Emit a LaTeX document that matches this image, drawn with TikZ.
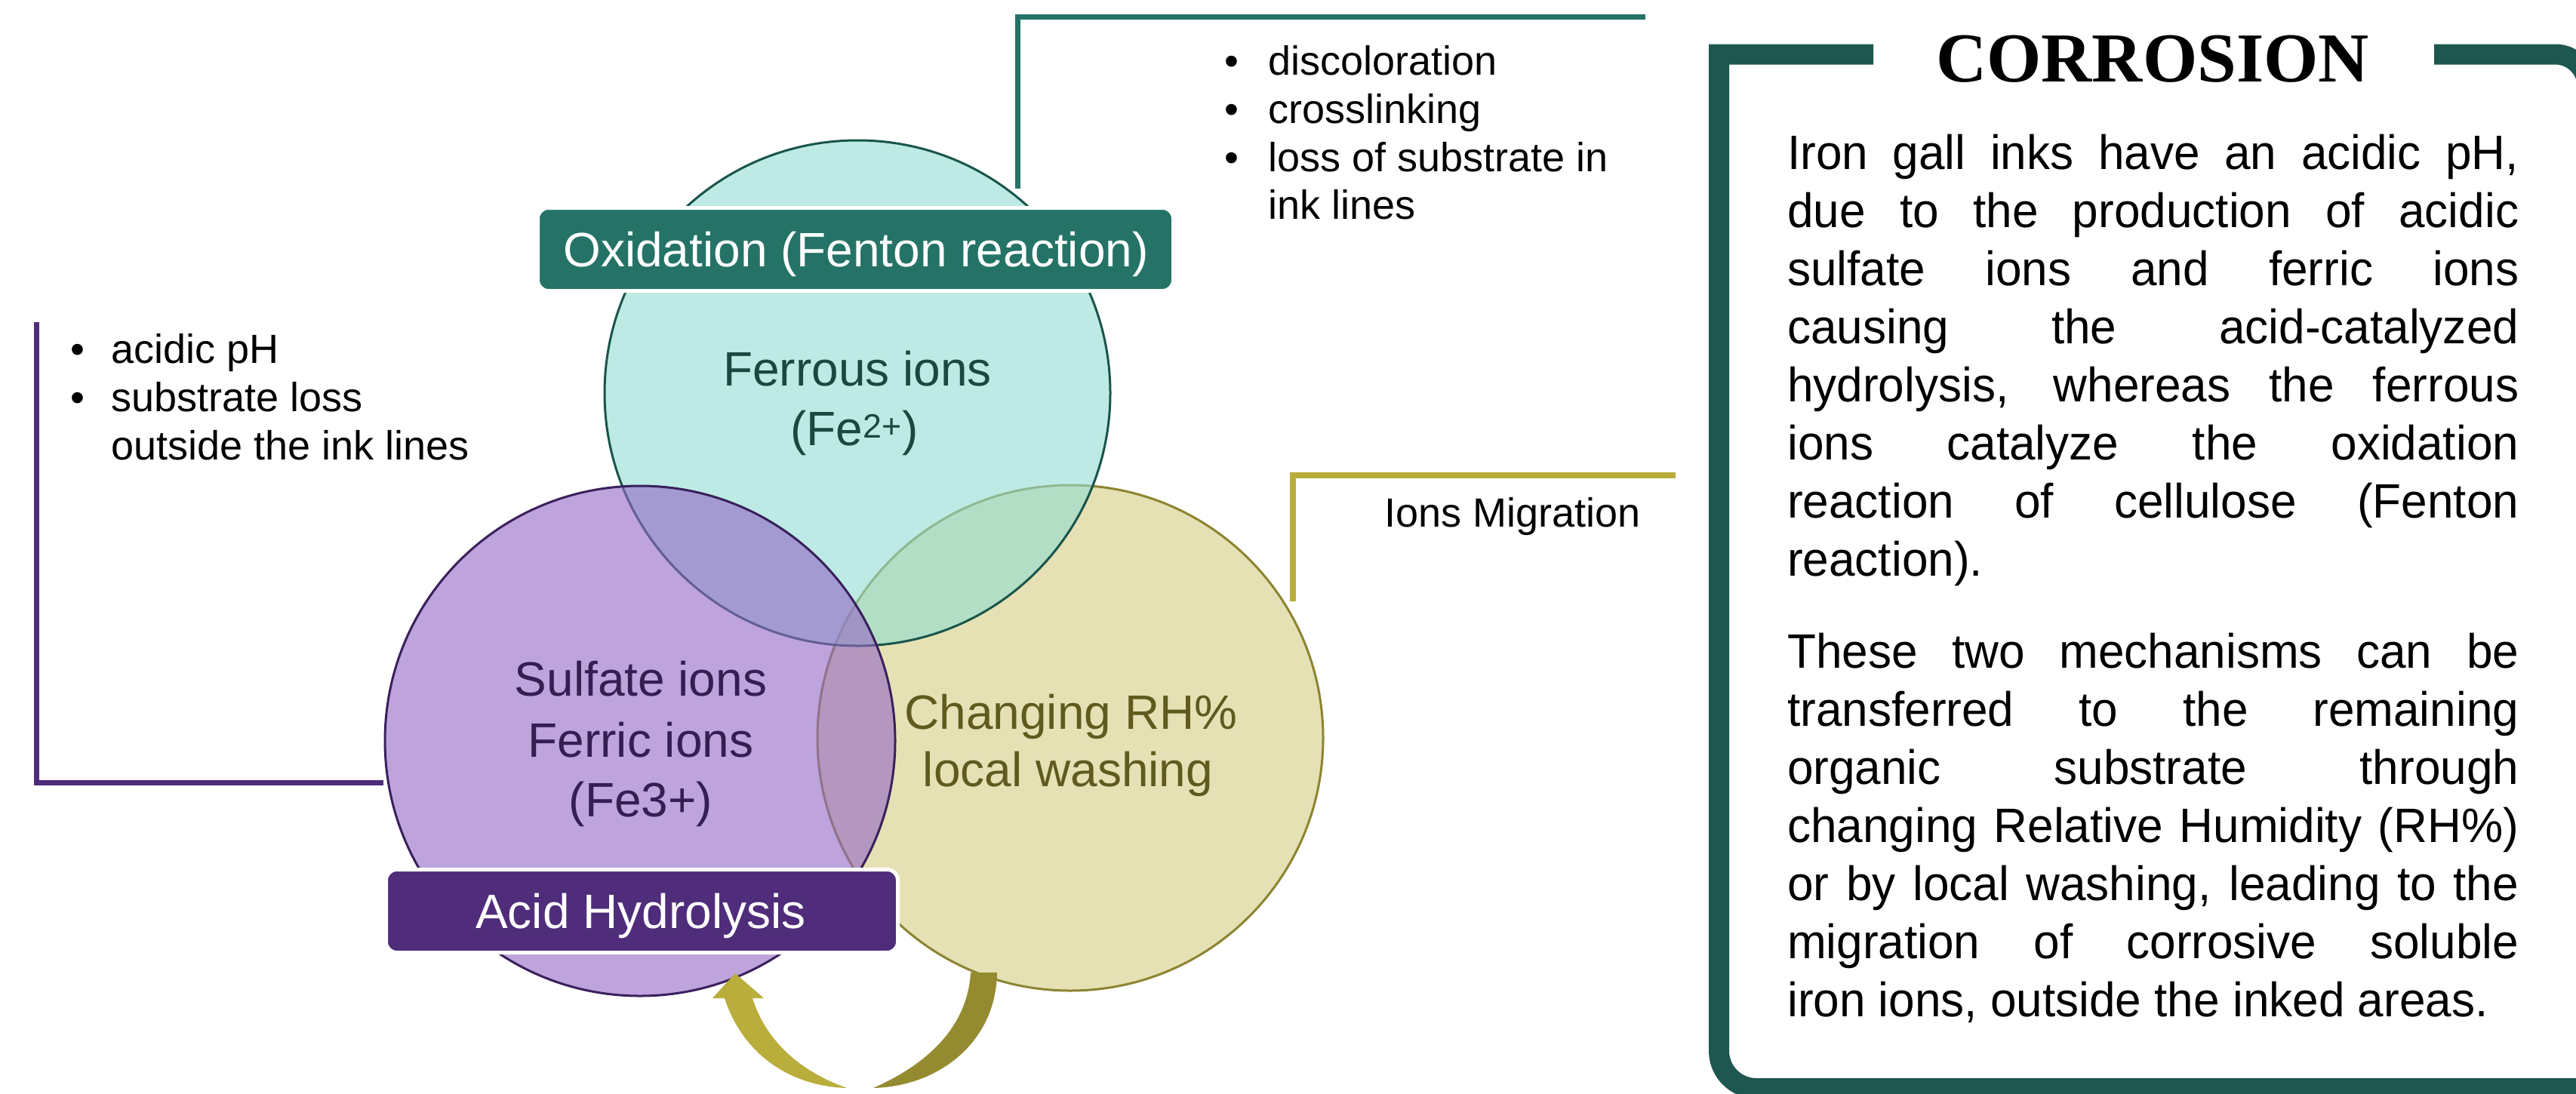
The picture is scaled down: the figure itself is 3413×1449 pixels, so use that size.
\documentclass[tikz,border=0pt]{standalone}
\usepackage{fontspec}
\setmainfont{Liberation Sans}
\newfontfamily\titlefont{Liberation Serif}
\newfontfamily\bodyfont[FakeStretch=0.97]{Liberation Sans}
\definecolor{tealD}{RGB}{37,115,103}
\definecolor{frameC}{RGB}{29,87,79}
\definecolor{purpD}{RGB}{79,45,122}
\definecolor{oliveL}{RGB}{184,173,58}
\definecolor{tealF}{RGB}{145,220,210}
\definecolor{purpF}{RGB}{147,102,197}
\definecolor{yelF}{RGB}{229,225,181}
\definecolor{tealS}{RGB}{25,85,75}
\definecolor{purpS}{RGB}{58,32,92}
\definecolor{yelS}{RGB}{140,132,48}
\definecolor{arrL}{RGB}{185,173,59}
\definecolor{arrR}{RGB}{148,139,49}
\definecolor{tealT}{RGB}{28,72,66}
\definecolor{purpT}{RGB}{52,30,82}
\definecolor{yelT}{RGB}{96,90,30}
\begin{document}
\begin{tikzpicture}[x=1pt,y=-1pt,
  venn/.style={circle,inner sep=0pt,minimum size=#1,fill opacity=0.6,draw opacity=1,line width=3pt},
  tagbox/.style={rounded corners=14pt,draw=white,line width=5pt,inner sep=0pt,minimum height=110pt},
  lab/.style={font=\fontsize{64}{77}\selectfont,inner sep=0pt,anchor=base},
  bul/.style={font=\fontsize{54}{64}\selectfont,inner sep=0pt,anchor=base west},
  body/.style={font=\bodyfont\fontsize{64}{77}\selectfont,inner sep=0pt,anchor=base west},
  callout/.style={line width=7pt}]
\useasboundingbox (0,0) rectangle (3413,1449);
\clip (0,0) rectangle (3413,1449);
\fill[white] (0,0) rectangle (3413,1449);

% Venn circles
\node[venn=670pt,fill=yelF,draw=yelS,fill opacity=1] (yel) at (1418,978) {};
\node[venn=670pt,fill=tealF,draw=tealS] (fe2) at (1136,521) {};
\node[venn=676pt,fill=purpF,draw=purpS] (fe3) at (848,982) {};

% circle texts
\node[lab,text=tealT] (t1) at (1136,511) {Ferrous ions};
\node[lab,text=tealT] (t2) at (1132,590) {(Fe\textsuperscript{2+})};
\node[lab,text=purpT] (t3) at (849,922) {Sulfate ions};
\node[lab,text=purpT] (t4) at (849,1003) {Ferric ions};
\node[lab,text=purpT] (t5) at (849,1082) {(Fe3+)};
\node[lab,text=yelT] (t6) at (1419,966) {Changing RH\%};
\node[lab,text=yelT] (t7) at (1415,1042) {local washing};

% label boxes
\node[tagbox,fill=tealD,minimum width=842pt] (oxbox) at (1133.5,330.5) {};
\node[lab,text=white] (oxtext) at (1134,353) {Oxidation (Fenton reaction)};
\node[tagbox,fill=purpD,minimum width=678pt] (acbox) at (850.5,1207.5) {};
\node[lab,text=white] (actext) at (849,1230) {Acid Hydrolysis};

% callouts
\coordinate (tA) at (1348,250); \coordinate (tB) at (1348,22.5); \coordinate (tC) at (2180,22.5);
\draw[callout,tealD] (tA) -- (tB) -- (tC);
\coordinate (pA) at (48.5,427); \coordinate (pB) at (48.5,1037); \coordinate (pC) at (508,1037);
\draw[callout,purpD] (pA) -- (pB) -- (pC);
\coordinate (yA) at (1713,797); \coordinate (yB) at (1713,629.5); \coordinate (yC) at (2220,629.5);
\draw[callout,oliveL,line width=8pt] (yA) -- (yB) -- (yC);

% bullet texts
\node[bul] (b1) at (1622,99) {\makebox[58pt][l]{•}discoloration};
\node[bul] (b2) at (1622,163) {\makebox[58pt][l]{•}crosslinking};
\node[bul] (b3) at (1622,227) {\makebox[58pt][l]{•}loss of substrate in};
\node[bul] (b4) at (1680,290) {ink lines};
\node[bul] (c1) at (93,481) {\makebox[54pt][l]{•}acidic pH};
\node[bul] (c2) at (93,545) {\makebox[54pt][l]{•}substrate loss};
\node[bul] (c3) at (147,609) {outside the ink lines};
\node[bul] (m1) at (1834,698) {Ions Migration};

% frame
\draw[frameC,line width=27pt] (2482,72) -- (2277.5,72) -- (2277.5,1393)
  .. controls (2277.5,1420.3) and (2299.7,1442.5) .. (2327,1442.5) -- (3428,1442.5)
  -- (3428,114.5) .. controls (3428,91) and (3409,72) .. (3385.5,72) -- (3225,72);
\node[font=\titlefont\bfseries\fontsize{93}{100}\selectfont,inner sep=0pt,anchor=base] (title) at (2852,108) {CORROSION};

% body text
\def\W{969pt}
\node[body] (p1) at (2368,224) {\makebox[\W][s]{Iron gall inks have an acidic pH,}};
\node[body] (p2) at (2368,301) {\makebox[\W][s]{due to the production of acidic}};
\node[body] (p3) at (2368,378) {\makebox[\W][s]{sulfate ions and ferric ions}};
\node[body] (p4) at (2368,455) {\makebox[\W][s]{causing the acid-catalyzed}};
\node[body] (p5) at (2368,532) {\makebox[\W][s]{hydrolysis, whereas the ferrous}};
\node[body] (p6) at (2368,609) {\makebox[\W][s]{ions catalyze the oxidation}};
\node[body] (p7) at (2368,686) {\makebox[\W][s]{reaction of cellulose (Fenton}};
\node[body] (p8) at (2368,763) {reaction).};
\node[body] (q1) at (2368,885) {\makebox[\W][s]{These two mechanisms can be}};
\node[body] (q2) at (2368,962) {\makebox[\W][s]{transferred to the remaining}};
\node[body] (q3) at (2368,1039) {\makebox[\W][s]{organic substrate through}};
\node[body] (q4) at (2368,1116) {\makebox[\W][s]{changing Relative Humidity (RH\%)}};
\node[body] (q5) at (2368,1193) {\makebox[\W][s]{or by local washing, leading to the}};
\node[body] (q6) at (2368,1270) {\makebox[\W][s]{migration of corrosive soluble}};
\node[body] (q7) at (2368,1347) {iron ions, outside the inked areas.};

% circular arrow
\fill[arrL] (960,1323) .. controls (985,1400) and (1050,1440) .. (1122,1442)
  .. controls (1060,1420) and (1015,1380) .. (997,1323) -- cycle;
\fill[arrL] (944,1323) -- (974,1290) -- (1012,1323) -- cycle;
\fill[arrR] (1286,1289) -- (1321,1289) .. controls (1320,1380) and (1245,1440) .. (1157,1442)
  .. controls (1230,1410) and (1282,1360) .. (1286,1289) -- cycle;
\end{tikzpicture}
\end{document}
